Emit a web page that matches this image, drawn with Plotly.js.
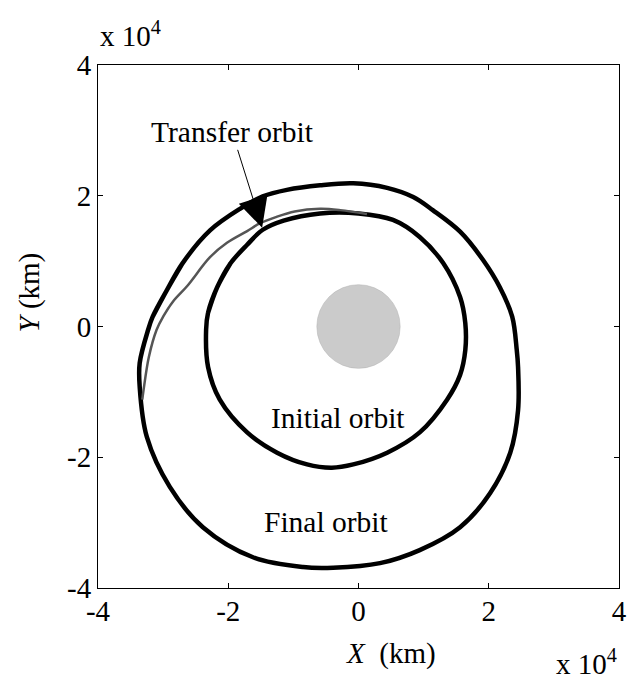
<!DOCTYPE html>
<html><head><meta charset="utf-8">
<script src="https://cdn.plot.ly/plotly-3.0.1.min.js"></script>
<style>html,body{margin:0;padding:0;background:#fff}</style>
</head><body><div id="chart" style="width:628px;height:680px"></div>
<script>
// All coordinates in units of 10^4 km
const initialX = [-2.31,-2.17,-1.97,-1.71,-1.47,-1.15,-0.59,0.00,0.53,0.94,1.30,1.56,1.64,1.64,1.56,1.36,0.94,0.44,-0.08,-0.41,-0.79,-1.25,-1.71,-2.13,-2.31,-2.34,-2.31,-2.17,-1.97];
const initialY = [0.21,0.60,0.96,1.25,1.48,1.62,1.73,1.73,1.63,1.37,0.97,0.45,0.05,-0.36,-0.74,-1.12,-1.62,-1.93,-2.11,-2.16,-2.11,-1.93,-1.62,-1.12,-0.62,-0.05,0.21,0.60,0.96];

const finalX = [-3.16,-2.94,-2.70,-2.28,-1.82,-1.47,-1.10,-0.59,-0.08,0.44,0.84,1.14,1.56,1.91,2.17,2.36,2.43,2.45,2.45,2.33,2.02,1.56,0.94,0.33,-0.39,-0.85,-1.62,-2.39,-2.90,-3.25,-3.36,-3.36,-3.23,-3.16,-2.94,-2.70];
const finalY = [0.15,0.56,0.97,1.47,1.80,1.99,2.09,2.16,2.19,2.12,1.98,1.78,1.45,1.02,0.60,0.15,-0.36,-0.62,-1.28,-1.93,-2.55,-3.07,-3.42,-3.62,-3.69,-3.68,-3.53,-3.07,-2.45,-1.69,-0.92,-0.56,-0.05,0.15,0.56,0.97];

const transferX = [0.13,-0.28,-0.59,-0.98,-1.28,-1.51,-1.71,-2.02,-2.28,-2.63,-2.85,-3.00,-3.10,-3.22,-3.30,-3.32];
const transferY = [1.72,1.78,1.80,1.76,1.67,1.58,1.46,1.28,1.06,0.62,0.38,0.15,-0.05,-0.47,-0.97,-1.12];

const earthRadius = 0.64;

const tickVals = [-4,-2,0,2,4];
const tickText = ['-4','-2','0','2','4'];

const labelInitial = {text:'Initial orbit', x:-0.31, y:-1.40};
const labelFinal = {text:'Final orbit', x:-0.49, y:-2.99};
const labelTransfer = {text:'Transfer orbit', x:-1.94, y:2.97, tipX:-1.48, tipY:1.51};

const FONT = 'Liberation Serif';

const traces = [
  {x:finalX, y:finalY, mode:'lines', line:{color:'#000', width:4.5, shape:'spline', smoothing:1}, hoverinfo:'skip'},
  {x:initialX, y:initialY, mode:'lines', line:{color:'#000', width:4.5, shape:'spline', smoothing:1}, hoverinfo:'skip'},
  {x:transferX, y:transferY, mode:'lines', line:{color:'#555', width:2.5, shape:'spline', smoothing:1}, hoverinfo:'skip'}
];

const axisCommon = {
  range:[-4,4], tickvals:tickVals, ticktext:tickText, ticks:'inside', ticklen:5, tickwidth:1, tickcolor:'#000',
  showline:true, linecolor:'#000', linewidth:1, mirror:'ticks', zeroline:false, showgrid:false,
  tickfont:{family:FONT, size:29, color:'#000'}, fixedrange:true
};

const layout = {
  width:628, height:680,
  margin:{l:98, r:9, t:65, b:92},
  paper_bgcolor:'#fff', plot_bgcolor:'#fff',
  showlegend:false,
  font:{family:FONT, color:'#000', size:29},
  xaxis:Object.assign({}, axisCommon, {ticklabelstandoff:-3}),
  yaxis:Object.assign({}, axisCommon, {ticklabelstandoff:0}),
  shapes:[{type:'circle', xref:'x', yref:'y', x0:-earthRadius, x1:earthRadius, y0:-earthRadius, y1:earthRadius,
           fillcolor:'#cbcbcb', line:{width:0.5, color:'#b0b0b0'}, layer:'below'}],
  annotations:[
    {text:labelInitial.text, x:labelInitial.x, y:labelInitial.y, xref:'x', yref:'y', showarrow:false, font:{family:FONT,size:29.5,color:'#000'}},
    {text:labelFinal.text, x:labelFinal.x, y:labelFinal.y, xref:'x', yref:'y', showarrow:false, font:{family:FONT,size:29.5,color:'#000'}},
    {text:labelTransfer.text, x:labelTransfer.tipX, y:labelTransfer.tipY, ax:labelTransfer.x, ay:labelTransfer.y,
     xref:'x', yref:'y', axref:'x', ayref:'y', showarrow:true, arrowhead:2, arrowsize:6, arrowwidth:1, arrowcolor:'#000',
     standoff:0, font:{family:FONT,size:29.5,color:'#000'}},
    {text:'<i>Y</i> (km)', textangle:-90, xref:'paper', yref:'paper', x:0, y:0.565, xshift:-68, xanchor:'center', yanchor:'middle', showarrow:false, font:{family:FONT,size:29,color:'#000'}},
    {text:'<i>X</i>&nbsp; (km)', xref:'paper', yref:'paper', x:0.562, y:0, yshift:-65, xanchor:'center', yanchor:'middle', showarrow:false, font:{family:FONT,size:29,color:'#000'}},
    {text:'x 10<sup>4</sup>', xref:'paper', yref:'paper', x:0, y:1, xanchor:'left', yanchor:'bottom', yshift:11, showarrow:false, font:{family:FONT,size:29,color:'#000'}},
    {text:'x 10<sup>4</sup>', xref:'paper', yref:'paper', x:1, y:0, xanchor:'right', yanchor:'top', yshift:-54, showarrow:false, font:{family:FONT,size:29,color:'#000'}}
  ]
};

Plotly.newPlot('chart', traces, layout, {displayModeBar:false, staticPlot:true});
</script>
</body></html>
